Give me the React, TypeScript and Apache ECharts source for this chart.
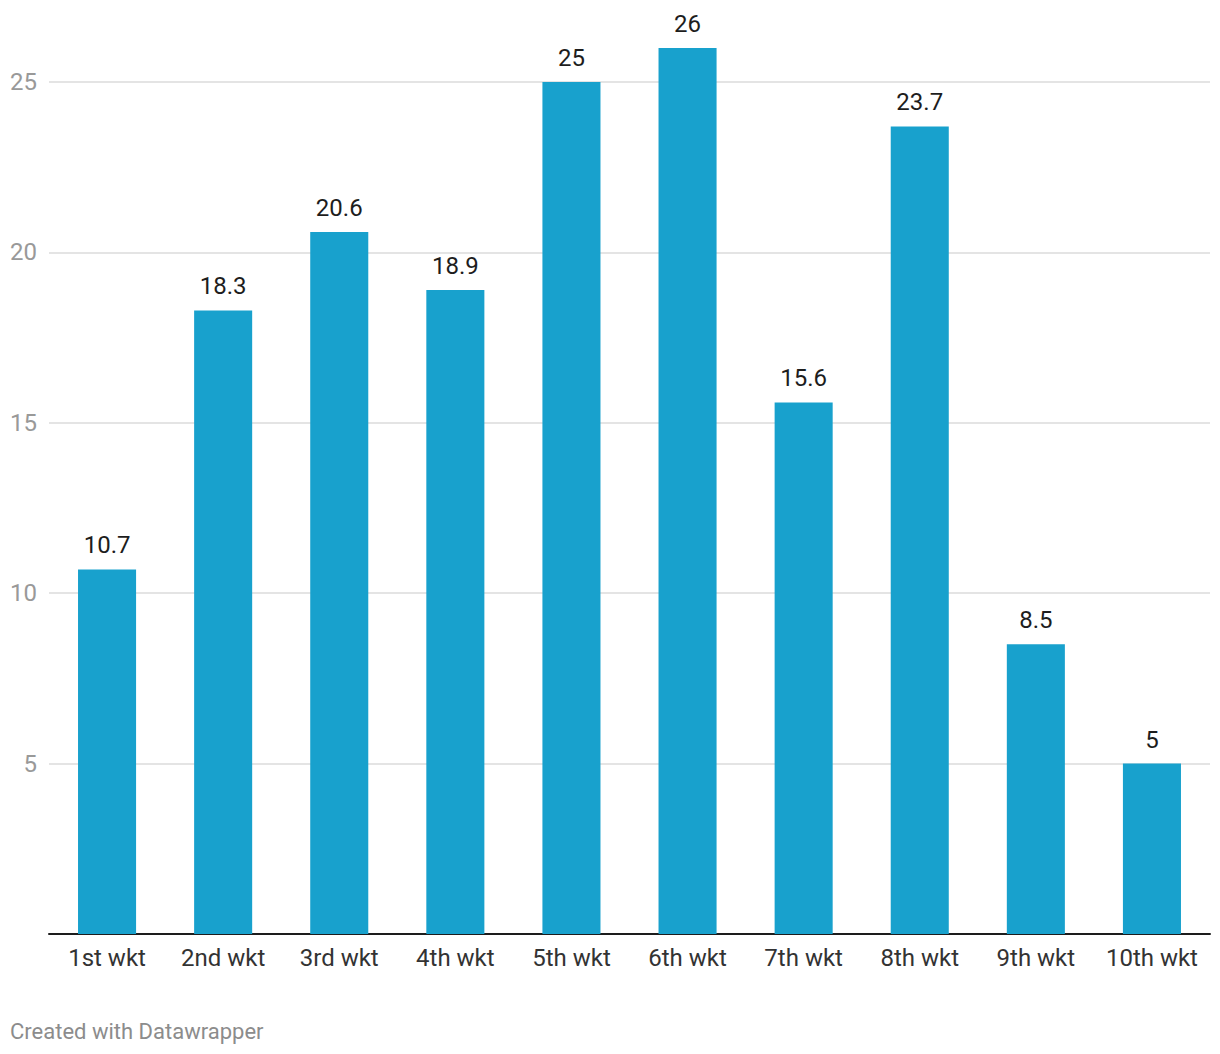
import React, { useEffect, useRef } from "react";
import * as echarts from "echarts";

const categories = ["1st wkt", "2nd wkt", "3rd wkt", "4th wkt", "5th wkt", "6th wkt", "7th wkt", "8th wkt", "9th wkt", "10th wkt"];
const values = [10.7, 18.3, 20.6, 18.9, 25, 26, 15.6, 23.7, 8.5, 5];
const footer = "Created with Datawrapper";

export default function App() {
  const ref = useRef<HTMLDivElement>(null);
  useEffect(() => {
    if (!ref.current) return;
    const chart = echarts.init(ref.current, null, { renderer: "svg" });
    chart.setOption({
      animation: false,
      backgroundColor: "#ffffff",
      textStyle: { fontFamily: "Roboto" },
      grid: { left: 49, right: 10, top: 48, bottom: 120, containLabel: false },
      xAxis: {
        type: "category",
        data: categories,
        axisLine: { lineStyle: { color: "#1d1d1d", width: 2 } },
        axisTick: { show: false },
        axisLabel: { interval: 0, hideOverlap: false, color: "#333333", fontSize: 24, margin: 12, fontFamily: "Roboto" },
      },
      yAxis: {
        type: "value",
        min: 0,
        max: 26,
        interval: 5,
        axisLine: { show: false },
        axisTick: { show: false },
        splitLine: { showMinLine: false, showMaxLine: false, lineStyle: { color: "#e4e4e4", width: 2 } },
        axisLabel: {
          color: "#999999",
          fontSize: 24,
          margin: 12,
          fontFamily: "Roboto",
          formatter: (v: number) => (v === 0 || v === 26 ? "" : String(v)),
        },
      },
      series: [
        {
          type: "bar",
          data: values,
          barWidth: "50%",
          itemStyle: { color: "#18a1cd" },
          label: {
            show: true,
            position: "top",
            distance: 12,
            color: "#1d1d1d",
            fontSize: 24,
            fontFamily: "Roboto",
          },
        },
      ],
      graphic: [
        {
          type: "text",
          left: 10,
          top: 1020,
          style: { text: footer, fill: "#8c8c8c", fontSize: 22, fontFamily: "Roboto" },
        },
      ],
    });
    return () => chart.dispose();
  }, []);
  return <div ref={ref} style={{ position: "absolute", left: 0, top: 0, width: 1220, height: 1054 }} />;
}
